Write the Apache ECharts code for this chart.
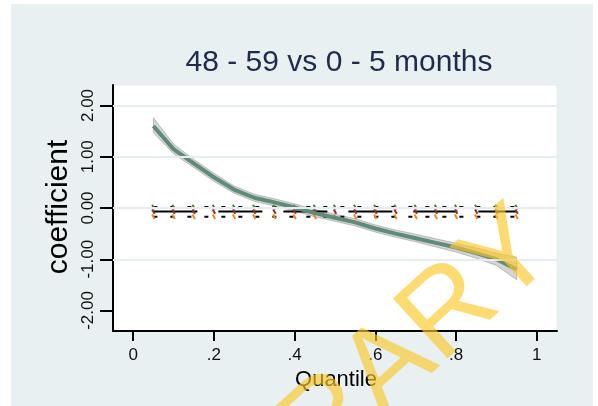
<!DOCTYPE html>
<html>
<head>
<meta charset="utf-8">
<script src="https://cdn.jsdelivr.net/npm/echarts@6/dist/echarts.min.js"></script>
<style>
  html, body { margin: 0; padding: 0; background: #ffffff; }
  #chart { width: 598px; height: 406px; }
</style>
</head>
<body>
<div id="chart"></div>
<script>
// Quantile regression coefficients by quantile, with 95% confidence band
const quantiles = [0.05, 0.10, 0.15, 0.20, 0.25, 0.30, 0.35, 0.40, 0.45, 0.50,
                   0.55, 0.60, 0.65, 0.70, 0.75, 0.80, 0.85, 0.90, 0.95];
const qrCoef  = [1.60, 1.15, 0.87, 0.60, 0.36, 0.20, 0.11, 0.01, -0.10, -0.19,
                 -0.28, -0.40, -0.50, -0.59, -0.68, -0.77, -0.88, -1.00, -1.20];
const qrUpper = [1.76, 1.25, 0.95, 0.68, 0.43, 0.27, 0.18, 0.08, -0.03, -0.12,
                 -0.21, -0.33, -0.43, -0.51, -0.60, -0.69, -0.78, -0.88, -0.96];
const qrLower = [1.47, 1.06, 0.79, 0.52, 0.29, 0.13, 0.04, -0.06, -0.17, -0.26,
                 -0.35, -0.47, -0.57, -0.66, -0.76, -0.86, -0.98, -1.12, -1.40];

// OLS estimate and its confidence limits (constant across quantiles)
const olsCoef  = -0.07;
const olsUpper = 0.02;
const olsLower = -0.17;

// Axis ticks and labels
const xTicks = [0, 0.2, 0.4, 0.6, 0.8, 1];
const xTickLabels = ['0', '.2', '.4', '.6', '.8', '1'];
const yTicks = [-2, -1, 0, 1, 2];
const yTickLabels = ['-2.00', '-1.00', '0.00', '1.00', '2.00'];
const yGridValues = [-1, 0, 1, 2];

const titleText = '48 - 59 vs 0 - 5 months';
const xTitle = 'Quantile';
const yTitle = 'coefficient';
const watermark = 'LIBRARY';

function lookup(ticks, labels, v) {
  for (let i = 0; i < ticks.length; i++) {
    if (Math.abs(ticks[i] - v) < 1e-9) return labels[i];
  }
  return '';
}

const FONT = '"Liberation Sans", Arial, sans-serif';
const chart = echarts.init(document.getElementById('chart'), null, { renderer: 'canvas' });

function constantLine(v) {
  return quantiles.map(q => [q, v]);
}

const option = {
  animation: false,
  backgroundColor: '#ffffff',
  grid: {
    left: 113, right: 41, top: 85, bottom: 75,
    show: true, backgroundColor: '#ffffff', borderColor: '#e4ecee', borderWidth: 1
  },
  xAxis: {
    type: 'value', min: -0.05, max: 1.05,
    axisLine: { show: true, onZero: false, lineStyle: { color: '#000', width: 2 } },
    axisTick: { show: true, length: 10, customValues: xTicks, lineStyle: { color: '#000', width: 2 } },
    axisLabel: {
      customValues: xTicks, margin: 16, fontSize: 17, color: '#111', fontFamily: FONT,
      formatter: v => lookup(xTicks, xTickLabels, v)
    },
    splitLine: { show: false }
  },
  yAxis: {
    type: 'value', min: -2.4, max: 2.4,
    axisLine: { show: true, onZero: false, lineStyle: { color: '#000', width: 2 } },
    axisTick: { show: true, length: 13, customValues: yTicks, lineStyle: { color: '#000', width: 2 } },
    axisLabel: {
      customValues: yTicks, rotate: 90, margin: 16, fontSize: 17, color: '#111', fontFamily: FONT,
      formatter: v => lookup(yTicks, yTickLabels, v)
    },
    splitLine: { show: false }
  },
  graphic: [
    {
      type: 'rect', z: -10, silent: true,
      shape: { x: 11, y: 4, width: 582, height: 402 },
      style: { fill: '#e8f0f2' }
    },
    {
      type: 'text', x: 339, y: 63, silent: true,
      style: { text: titleText, fontSize: 30, fontFamily: FONT, fill: '#1f2b4d',
               textAlign: 'center', textVerticalAlign: 'middle' }
    },
    {
      type: 'text', x: 336, y: 380, silent: true,
      style: { text: xTitle, fontSize: 22, fontFamily: FONT, fill: '#000',
               textAlign: 'center', textVerticalAlign: 'middle' }
    },
    {
      type: 'text', x: 59, y: 207, rotation: Math.PI / 2, silent: true,
      style: { text: yTitle, fontSize: 30, fontFamily: FONT, fill: '#000',
               textAlign: 'center', textVerticalAlign: 'middle' }
    },
    {
      type: 'text', x: 538, y: 232, rotation: 0.74, silent: true, z: 100,
      style: { text: watermark, fontSize: 118, fontFamily: FONT, fill: 'rgba(250,200,40,0.65)',
               textAlign: 'right', textVerticalAlign: 'middle' }
    }
  ],
  series: [
    {
      // light horizontal grid lines
      name: 'grid', type: 'line', data: [], z: 0, silent: true,
      markLine: {
        silent: true, symbol: 'none', label: { show: false },
        lineStyle: { color: '#e4eef1', width: 2, type: 'solid' },
        data: yGridValues.map(v => ({ yAxis: v }))
      }
    },
    {
      // confidence band of quantile estimates
      name: 'band', type: 'custom', z: 2, silent: true,
      data: [0],
      renderItem: function (params, api) {
        const pts = [];
        for (let i = 0; i < quantiles.length; i++) pts.push(api.coord([quantiles[i], qrUpper[i]]));
        for (let i = quantiles.length - 1; i >= 0; i--) pts.push(api.coord([quantiles[i], qrLower[i]]));
        return {
          type: 'polygon',
          shape: { points: pts },
          style: { fill: 'rgba(160,160,160,0.45)', stroke: 'rgba(150,150,150,0.55)', lineWidth: 1 }
        };
      }
    },
    {
      name: 'OLS upper', type: 'line', z: 3, data: constantLine(olsUpper),
      lineStyle: { color: '#000', width: 2, type: [4, 13] },
      symbol: 'rect', symbolSize: [2, 5], symbolRotate: 30, showSymbol: true,
      itemStyle: { color: '#4f7d2c' }
    },
    {
      name: 'OLS', type: 'line', z: 3, data: constantLine(olsCoef),
      lineStyle: { color: '#000', width: 2, type: [44, 21] },
      symbol: 'rect', symbolSize: [2, 5], symbolRotate: 30, showSymbol: true,
      itemStyle: { color: '#9c2436' }
    },
    {
      name: 'OLS lower', type: 'line', z: 3, data: constantLine(olsLower),
      lineStyle: { color: '#000', width: 2, type: [4, 13] },
      symbol: 'rect', symbolSize: [2, 5], symbolRotate: 30, showSymbol: true,
      itemStyle: { color: '#f08a12' }
    },
    {
      name: 'Quantile estimate', type: 'line', z: 4,
      data: quantiles.map((q, i) => [q, qrCoef[i]]),
      showSymbol: false, symbol: 'none',
      lineStyle: { color: '#5f8b78', width: 4 }
    }
  ]
};

chart.setOption(option);
</script>
</body>
</html>
